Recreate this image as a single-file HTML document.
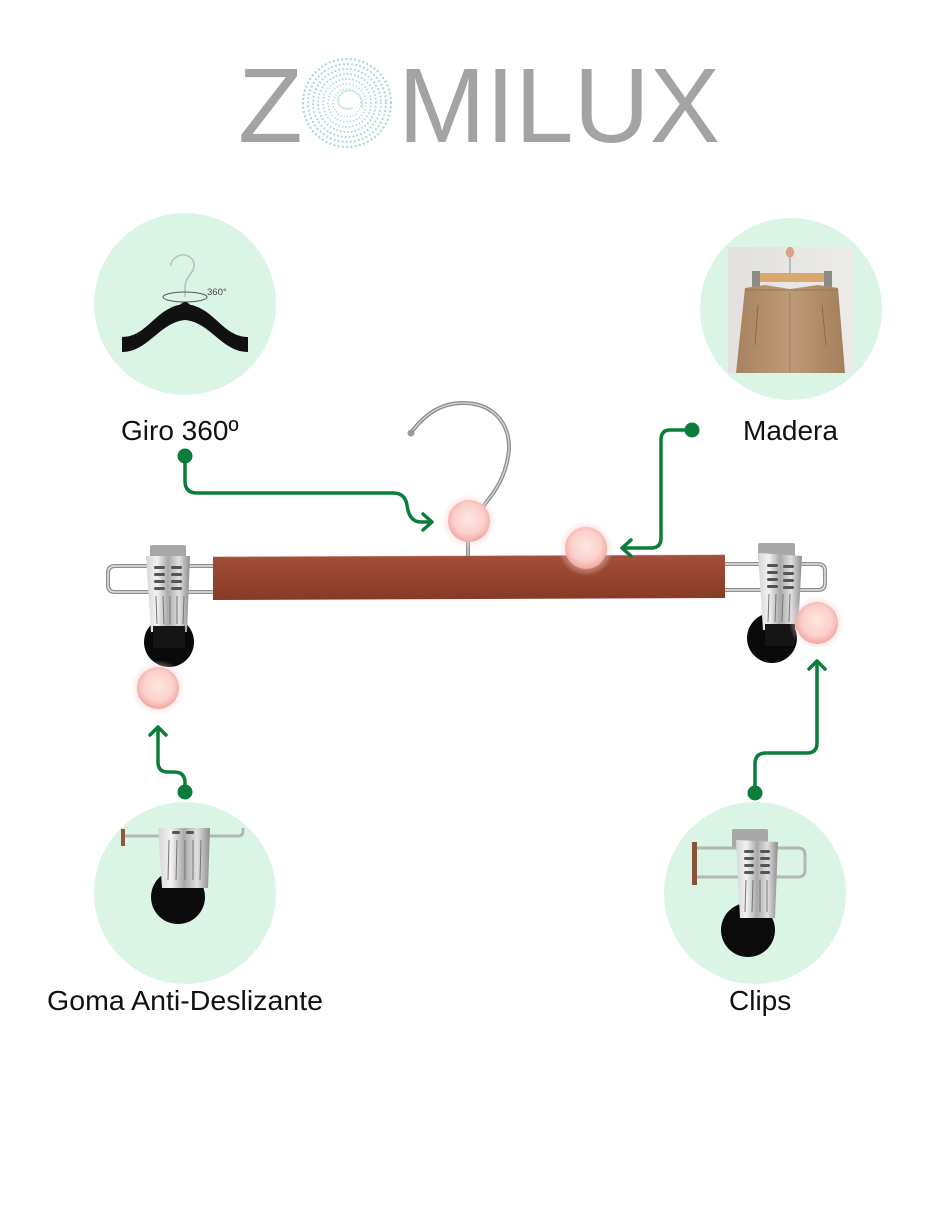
<!DOCTYPE html>
<html>
<head>
<meta charset="utf-8">
<style>
  html,body{margin:0;padding:0;background:#fff;}
  body{width:940px;height:1215px;overflow:hidden;}
  svg{display:block;}
  text{font-family:"Liberation Sans", Arial, sans-serif;}
</style>
</head>
<body>
<svg width="940" height="1215" viewBox="0 0 940 1215" xmlns="http://www.w3.org/2000/svg">
  <defs>
    <radialGradient id="pink" cx="50%" cy="45%" r="55%">
      <stop offset="0%" stop-color="#fee6e2"/>
      <stop offset="65%" stop-color="#fbd0cb"/>
      <stop offset="100%" stop-color="#f3a6a3"/>
    </radialGradient>
    <radialGradient id="halo" cx="50%" cy="50%" r="50%">
      <stop offset="70%" stop-color="#f8c0bc" stop-opacity="0.5"/>
      <stop offset="100%" stop-color="#fde8e6" stop-opacity="0"/>
    </radialGradient>
    <linearGradient id="wood" x1="0" y1="0" x2="0" y2="1">
      <stop offset="0%" stop-color="#a24f3b"/>
      <stop offset="45%" stop-color="#97462f"/>
      <stop offset="100%" stop-color="#853a27"/>
    </linearGradient>
    <linearGradient id="chrome" x1="0" y1="0" x2="1" y2="0">
      <stop offset="0%" stop-color="#d6d6d6"/>
      <stop offset="25%" stop-color="#f2f2f2"/>
      <stop offset="50%" stop-color="#a9a9a9"/>
      <stop offset="75%" stop-color="#e0e0e0"/>
      <stop offset="100%" stop-color="#8d8d8d"/>
    </linearGradient>
    <linearGradient id="photoWall" x1="0" y1="0" x2="1" y2="0">
      <stop offset="0%" stop-color="#e2e1df"/>
      <stop offset="100%" stop-color="#ecebe9"/>
    </linearGradient>
    <linearGradient id="pants" x1="0" y1="0" x2="1" y2="0">
      <stop offset="0%" stop-color="#a9835f"/>
      <stop offset="50%" stop-color="#bd9a77"/>
      <stop offset="100%" stop-color="#a57f5c"/>
    </linearGradient>
  </defs>

  <!-- LOGO -->
  <text x="238" y="142" font-size="106" fill="#a3a3a3">Z</text>
  <g fill="none" stroke="#9fd6ba" stroke-linecap="round" opacity="0.85">
    <circle cx="347" cy="103" r="44" stroke-width="2.3" stroke-dasharray="0.1 4.2"/>
    <circle cx="347" cy="103" r="39" stroke-width="2.2" stroke-dasharray="0.1 4"/>
    <circle cx="347" cy="103" r="34" stroke-width="2.1" stroke-dasharray="0.1 3.8"/>
    <circle cx="347" cy="103" r="29" stroke-width="2" stroke-dasharray="0.1 3.6"/>
    <circle cx="347" cy="103" r="24" stroke-width="1.8" stroke-dasharray="0.1 3.4"/>
    <circle cx="347" cy="103" r="19" stroke-width="1.6" stroke-dasharray="0.1 3.2"/>
    <circle cx="347" cy="103" r="14" stroke-width="1.4" stroke-dasharray="0.1 3"/>
    <path d="M352,108 C340,112 333,100 342,93 C352,86 365,95 362,108" stroke-width="2" stroke="#c7e8d6"/>
  </g>
  <text x="398" y="142" font-size="106" fill="#a3a3a3" textLength="322" lengthAdjust="spacingAndGlyphs">MILUX</text>

  <!-- FEATURE CIRCLES -->
  <circle cx="185" cy="304" r="91" fill="#daf5e6"/>
  <circle cx="791" cy="309" r="91" fill="#daf5e6"/>
  <circle cx="185" cy="893" r="91" fill="#daf5e6"/>
  <circle cx="755" cy="893" r="91" fill="#daf5e6"/>

  <!-- circle 1: black hanger 360 -->
  <g>
    <path d="M185,297 L185,286 C186,276 195,272 194,264 C193,256 184,253 178,256 C173,259 170,263 171,266" fill="none" stroke="#b9b9b9" stroke-width="1.4"/>
    <ellipse cx="185" cy="297" rx="22" ry="5" fill="none" stroke="#555" stroke-width="1"/>
    <path d="M122,337 C148,337 156,306 185,304 C214,306 222,337 248,337 L248,352 C222,352 210,322 185,320 C160,322 148,352 122,352 Z" fill="#111"/>
    <path d="M179,306 Q185,298 191,306 Z" fill="#111"/>
    <text x="207" y="295" font-size="9.5" fill="#444">360°</text>
  </g>

  <!-- circle 2: pants photo -->
  <g>
    <rect x="728" y="247" width="125" height="126" fill="url(#photoWall)"/>
    <path d="M789,247 C785,249 784,256 790,258 C796,256 795,249 791,247 Z" fill="#d7a384"/>
    <line x1="790" y1="258" x2="790" y2="274" stroke="#9a9a9a" stroke-width="1.2"/>
    <rect x="752" y="276" width="80" height="2" fill="#b8b8b8"/>
    <rect x="758" y="273" width="68" height="9" fill="#d9a86e"/>
    <rect x="752" y="271" width="8" height="16" fill="#8a8a88"/>
    <rect x="824" y="271" width="8" height="16" fill="#8a8a88"/>
    <path d="M745,288 L765,285 L790,289 L818,285 L838,288 L845,373 L736,373 Z" fill="url(#pants)"/>
    <path d="M745,290 L838,290" stroke="#9c7654" stroke-width="1"/>
    <path d="M790,292 L790,373" stroke="#9c7654" stroke-width="0.8"/>
    <path d="M758,305 L755,345" stroke="#8d6848" stroke-width="1"/>
    <path d="M822,305 L826,345" stroke="#8d6848" stroke-width="1"/>
  </g>

  <!-- circle 3: clip side with rubber -->
  <g>
    <circle cx="178" cy="897" r="27" fill="#0b0b0b"/>
    <rect x="121" y="829" width="4" height="17" fill="#8a5a3c"/>
    <path d="M125,836 L238,836 Q243,836 243,831 L243,828" fill="none" stroke="#b5b5b5" stroke-width="3"/>
    <path d="M158,828 L210,828 L208,888 L162,888 Z" fill="url(#chrome)"/>
    <rect x="172" y="831" width="8" height="3" rx="1.5" fill="#555"/>
    <rect x="186" y="831" width="8" height="3" rx="1.5" fill="#555"/>
    <g stroke="#777" stroke-width="1">
      <line x1="169" y1="840" x2="168" y2="880"/>
      <line x1="177" y1="840" x2="176" y2="880"/>
      <line x1="185" y1="840" x2="185" y2="880"/>
      <line x1="193" y1="840" x2="193" y2="880"/>
      <line x1="201" y1="840" x2="200" y2="880"/>
    </g>
  </g>

  <!-- circle 4: clip front -->
  <g>
    <circle cx="748" cy="930" r="27" fill="#0b0b0b"/>
    <rect x="692" y="842" width="5" height="43" fill="#8a5236"/>
    <path d="M697,848 L798,848 Q805,848 805,855 L805,870 Q805,877 798,877 L697,877" fill="none" stroke="#b5b5b5" stroke-width="3"/>
    <rect x="732" y="829" width="36" height="18" rx="2" fill="#a9a9a9"/>
    <path d="M736,840 L778,842 L775,918 L740,918 Z" fill="url(#chrome)"/>
    <g fill="#555">
      <rect x="744" y="850" width="10" height="3" rx="1.5"/><rect x="760" y="850" width="10" height="3" rx="1.5"/>
      <rect x="744" y="857" width="10" height="3" rx="1.5"/><rect x="760" y="857" width="10" height="3" rx="1.5"/>
      <rect x="744" y="864" width="10" height="3" rx="1.5"/><rect x="760" y="864" width="10" height="3" rx="1.5"/>
      <rect x="744" y="871" width="10" height="3" rx="1.5"/><rect x="760" y="871" width="10" height="3" rx="1.5"/>
    </g>
    <g stroke="#777" stroke-width="1">
      <line x1="746" y1="880" x2="745" y2="912"/>
      <line x1="753" y1="880" x2="752" y2="912"/>
      <line x1="760" y1="880" x2="760" y2="912"/>
      <line x1="767" y1="880" x2="767" y2="912"/>
    </g>
  </g>

  <!-- LABELS -->
  <text x="121" y="440" font-size="28" fill="#111">Giro 360º</text>
  <text x="743" y="440" font-size="28" fill="#111">Madera</text>
  <text x="47" y="1010" font-size="28" fill="#111" textLength="276" lengthAdjust="spacingAndGlyphs">Goma Anti-Deslizante</text>
  <text x="729" y="1010" font-size="28" fill="#111">Clips</text>

  <!-- MAIN HANGER -->
  <path d="M468,557 L468,528 L488,500 C500,485 507,470 509,450 C510,420 490,403 463,403 C440,403 425,415 413,430" fill="none" stroke="#8e8e8e" stroke-width="4" stroke-linecap="round"/>
  <path d="M468,557 L468,528 L488,500 C500,485 507,470 509,450 C510,420 490,403 463,403 C440,403 425,415 413,430" fill="none" stroke="#d8d8d8" stroke-width="1.3"/>
  <circle cx="411" cy="433" r="3.5" fill="#9a9a9a"/>

  <path d="M214,566 L115,566 Q108,566 108,573 L108,585 Q108,592 115,592 L214,592" fill="none" stroke="#8f8f8f" stroke-width="4"/>
  <path d="M214,566 L115,566 Q108,566 108,573 L108,585 Q108,592 115,592 L214,592" fill="none" stroke="#e4e4e4" stroke-width="1.5"/>
  <path d="M724,564 L818,564 Q825,564 825,571 L825,583 Q825,590 818,590 L724,590" fill="none" stroke="#8f8f8f" stroke-width="4"/>
  <path d="M724,564 L818,564 Q825,564 825,571 L825,583 Q825,590 818,590 L724,590" fill="none" stroke="#e4e4e4" stroke-width="1.5"/>

  <path d="M213,557 L725,555 L725,598 L213,600 Z" fill="url(#wood)"/>
  <path d="M213,557 L725,555" stroke="#b86650" stroke-width="1" opacity="0.6"/>

  <!-- left clip -->
  <g>
    <circle cx="169" cy="642" r="25" fill="#0a0a0a"/>
    <rect x="150" y="545" width="36" height="18" rx="2" fill="#a8a8a8"/>
    <path d="M146,556 L190,556 L187,632 L151,632 Z" fill="url(#chrome)"/>
    <rect x="153" y="626" width="32" height="22" fill="#151515"/>
    <g fill="#555">
      <rect x="154" y="566" width="11" height="3" rx="1.5"/><rect x="171" y="566" width="11" height="3" rx="1.5"/>
      <rect x="154" y="573" width="11" height="3" rx="1.5"/><rect x="171" y="573" width="11" height="3" rx="1.5"/>
      <rect x="154" y="580" width="11" height="3" rx="1.5"/><rect x="171" y="580" width="11" height="3" rx="1.5"/>
      <rect x="154" y="587" width="11" height="3" rx="1.5"/><rect x="171" y="587" width="11" height="3" rx="1.5"/>
    </g>
    <g stroke="#777" stroke-width="1">
      <line x1="156" y1="596" x2="157" y2="624"/>
      <line x1="163" y1="596" x2="164" y2="624"/>
      <line x1="170" y1="596" x2="170" y2="624"/>
      <line x1="177" y1="596" x2="177" y2="624"/>
      <line x1="184" y1="596" x2="183" y2="624"/>
    </g>
  </g>

  <!-- right clip -->
  <g>
    <circle cx="772" cy="638" r="25" fill="#0a0a0a"/>
    <rect x="758" y="543" width="37" height="18" rx="2" fill="#a8a8a8"/>
    <path d="M758,553 L802,556 L798,630 L763,630 Z" fill="url(#chrome)"/>
    <rect x="765" y="624" width="30" height="22" fill="#151515"/>
    <g fill="#555">
      <rect x="767" y="564" width="11" height="3" rx="1.5"/><rect x="783" y="565" width="11" height="3" rx="1.5"/>
      <rect x="767" y="571" width="11" height="3" rx="1.5"/><rect x="783" y="572" width="11" height="3" rx="1.5"/>
      <rect x="767" y="578" width="11" height="3" rx="1.5"/><rect x="783" y="579" width="11" height="3" rx="1.5"/>
      <rect x="767" y="585" width="11" height="3" rx="1.5"/><rect x="783" y="586" width="11" height="3" rx="1.5"/>
    </g>
    <g stroke="#777" stroke-width="1">
      <line x1="769" y1="594" x2="768" y2="622"/>
      <line x1="776" y1="594" x2="775" y2="622"/>
      <line x1="783" y1="594" x2="782" y2="622"/>
      <line x1="790" y1="594" x2="789" y2="622"/>
    </g>
  </g>

  <!-- CONNECTORS -->
  <g fill="none" stroke="#0b7d3b" stroke-width="3.5" stroke-linecap="round" stroke-linejoin="round">
    <path d="M185,457 L185,481 Q185,493 197,493 L393,493 Q405,493 407,505 Q409,522 421,522 L431,522"/>
    <path d="M423,514 L432,522 L423,530"/>
    <path d="M692,430 L670,430 Q661,430 661,440 L661,538 Q661,548 651,548 L623,548"/>
    <path d="M631,540 L622,548 L631,556"/>
    <path d="M755,793 L755,764 Q755,753 766,753 L807,753 Q817,753 817,743 L817,662"/>
    <path d="M809,669 L817,661 L825,669"/>
    <path d="M185,792 L185,783 Q185,772 174,772 L168,772 Q158,772 158,762 L158,728"/>
    <path d="M150,735 L158,727 L166,735"/>
  </g>
  <g fill="#0b7d3b">
    <circle cx="185" cy="456" r="7.5"/>
    <circle cx="692" cy="430" r="7.5"/>
    <circle cx="755" cy="793" r="7.5"/>
    <circle cx="185" cy="792" r="7.5"/>
  </g>

  <!-- PINK HOTSPOTS -->
  <g>
    <circle cx="469" cy="521" r="28" fill="url(#halo)"/>
    <circle cx="469" cy="521" r="21" fill="url(#pink)"/>
    <circle cx="586" cy="548" r="28" fill="url(#halo)"/>
    <circle cx="586" cy="548" r="21" fill="url(#pink)"/>
    <circle cx="817" cy="623" r="28" fill="url(#halo)"/>
    <circle cx="817" cy="623" r="21" fill="url(#pink)"/>
    <circle cx="158" cy="688" r="28" fill="url(#halo)"/>
    <circle cx="158" cy="688" r="21" fill="url(#pink)"/>
  </g>
</svg>
</body>
</html>
